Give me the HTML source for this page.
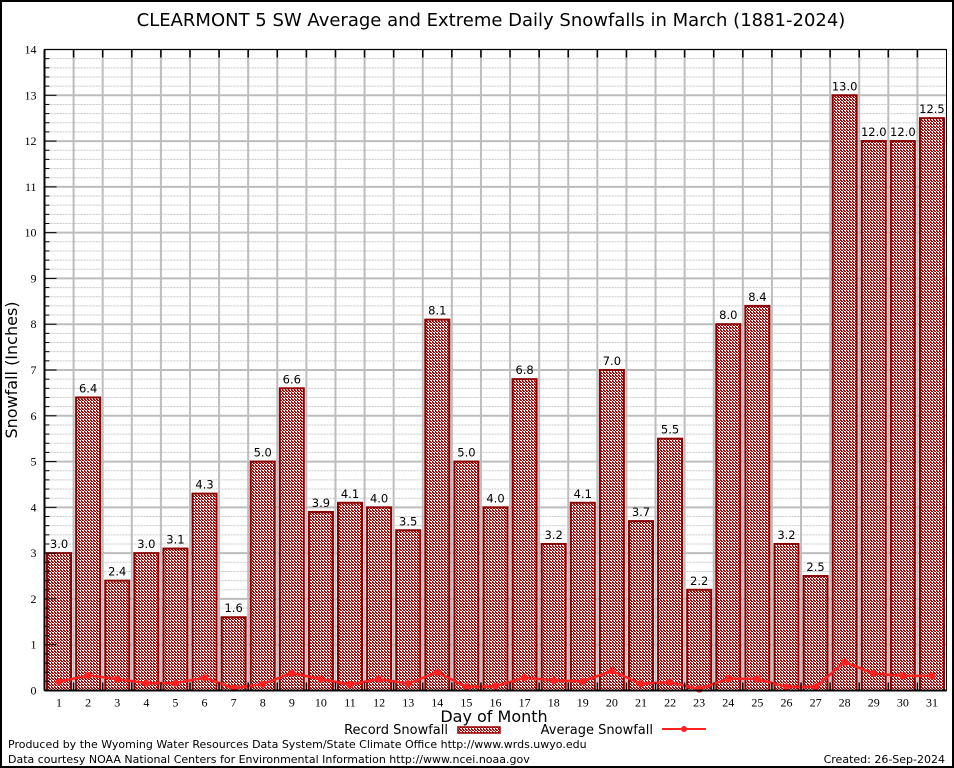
<!DOCTYPE html>
<html><head><meta charset="utf-8"><style>
html,body{margin:0;padding:0;background:#fff;}
svg{display:block;font-family:"DejaVu Sans","Liberation Sans",sans-serif;}
</style></head><body>
<svg id="chart" width="954" height="768" viewBox="0 0 954 768">
<defs>
<pattern id="chk" width="3" height="3" patternUnits="userSpaceOnUse">
<rect width="3" height="3" fill="#fff"/><rect x="0" y="0" width="2" height="1" fill="#b00000"/><rect x="1" y="1" width="2" height="1" fill="#b00000"/><rect x="0" y="2" width="1" height="1" fill="#b00000"/>
</pattern>
</defs>
<rect x="1" y="1" width="952" height="766" fill="#fff" stroke="#000" stroke-width="2"/>
<text x="491" y="26" text-anchor="middle" font-size="18">CLEARMONT 5 SW Average and Extreme Daily Snowfalls in March (1881-2024)</text>
<g id="grid"></g>
<g id="bars"></g>
<g id="avg"></g>
<g id="axes"></g>
<text transform="translate(17,370) rotate(-90)" text-anchor="middle" font-size="16">Snowfall (Inches)</text>
<text x="494" y="722" text-anchor="middle" font-size="16">Day of Month</text>
<g>
<text x="448" y="734" text-anchor="end" font-size="13">Record Snowfall</text>
<rect x="458" y="727" width="42" height="6" fill="url(#chk)" stroke="#990000" stroke-width="1.5"/>
<text x="653" y="734" text-anchor="end" font-size="13">Average Snowfall</text>
<line x1="662" y1="729" x2="706" y2="729" stroke="#ff2020" stroke-width="2"/>
<circle cx="684" cy="729" r="3" fill="#ff2020"/>
</g>
<text x="8" y="748" font-size="11">Produced by the Wyoming Water Resources Data System/State Climate Office http://www.wrds.uwyo.edu</text>
<text x="8" y="763" font-size="11">Data courtesy NOAA National Centers for Environmental Information http://www.ncei.noaa.gov</text>
<text x="945" y="763" text-anchor="end" font-size="11">Created: 26-Sep-2024</text>
</svg>
<script>
const days = [1,2,3,4,5,6,7,8,9,10,11,12,13,14,15,16,17,18,19,20,21,22,23,24,25,26,27,28,29,30,31];
const recordSnow = [3.0,6.4,2.4,3.0,3.1,4.3,1.6,5.0,6.6,3.9,4.1,4.0,3.5,8.1,5.0,4.0,6.8,3.2,4.1,7.0,3.7,5.5,2.2,8.0,8.4,3.2,2.5,13.0,12.0,12.0,12.5];
const avgSnow = [0.19,0.33,0.25,0.16,0.16,0.28,0.05,0.14,0.38,0.25,0.13,0.25,0.15,0.40,0.08,0.09,0.28,0.22,0.20,0.43,0.15,0.18,0.03,0.26,0.25,0.08,0.08,0.62,0.37,0.32,0.32];
const yTicks = [0,1,2,3,4,5,6,7,8,9,10,11,12,13,14];
const NS="http://www.w3.org/2000/svg";
const L=44.5,R=946.5,T=49.5,B=690.5,YMAX=14;
const bw=(R-L)/days.length;
const x=d=>L+(d-0.5)*bw;
const y=v=>B-(v/YMAX)*(B-T);
function mk(tag,attrs,parent,txt){const e=document.createElementNS(NS,tag);for(const k in attrs)e.setAttribute(k,attrs[k]);if(txt!==undefined)e.textContent=txt;parent.appendChild(e);return e;}
const grid=document.getElementById('grid'),bars=document.getElementById('bars'),avg=document.getElementById('avg'),axes=document.getElementById('axes');
mk('rect',{x:L,y:T,width:R-L,height:B-T,fill:'#fff'},grid);
for(let v=0;v<YMAX;v+=0.2){const r=Math.round(v*10)/10;if(Math.abs(r-Math.round(r))<1e-6)continue;
mk('line',{x1:L,x2:R,y1:y(r),y2:y(r),stroke:'#c8c8c8','stroke-width':1,'stroke-dasharray':'2,1'},grid);}
yTicks.forEach(v=>{const l=mk('line',{x1:L,x2:R,y1:y(v),y2:y(v),stroke:'#bdbdbd','stroke-width':2},grid);

});
for(let i=1;i<days.length;i++){const l=mk('line',{x1:L+i*bw,x2:L+i*bw,y1:T,y2:B,stroke:'#bdbdbd','stroke-width':2},grid);

}
days.forEach((d,i)=>{const v=recordSnow[i];
const r=mk('rect',{x:x(d)-12,y:y(v),width:24,height:B-y(v),fill:'url(#chk)',stroke:'#8b0000','stroke-width':2},bars);


const t=mk('text',{x:x(d),y:y(v)-5,'text-anchor':'middle','font-size':11.5},bars,v.toFixed(1));

});
const pts=days.map((d,i)=>x(d)+','+y(avgSnow[i])).join(' ');
const pl=mk('polyline',{points:pts,fill:'none',stroke:'#ff2020','stroke-width':2.5},avg);


days.forEach((d,i)=>{const c=mk('circle',{cx:x(d),cy:y(avgSnow[i]),r:3.5,fill:'#ff2020'},avg);

});
mk('rect',{x:L,y:T,width:R-L,height:B-T,fill:'none',stroke:'#000','stroke-width':1},axes);
mk('line',{x1:L,x2:L,y1:T,y2:B,stroke:'#000','stroke-width':2},axes);
mk('line',{x1:L,x2:R,y1:B,y2:B,stroke:'#000','stroke-width':2},axes);
for(let v=0;v<=YMAX+1e-6;v+=0.2){const r=Math.round(v*10)/10;const maj=Math.abs(r-Math.round(r))<1e-6;
mk('line',{x1:L,x2:L+(maj?12:5),y1:y(r),y2:y(r),stroke:'#000','stroke-width':1},axes);}
yTicks.forEach(v=>{const t=mk('text',{x:L-8,y:y(v)+4,'text-anchor':'end','font-size':12,'font-family':'Liberation Serif, serif'},axes,String(v));

});
for(let i=1;i<days.length;i++){mk('line',{x1:L+i*bw,x2:L+i*bw,y1:T,y2:T+8,stroke:'#000','stroke-width':1.5},axes);
mk('line',{x1:L+i*bw,x2:L+i*bw,y1:B,y2:B-8,stroke:'#000','stroke-width':1.5},axes);}
days.forEach(d=>{const t=mk('text',{x:x(d),y:B+16,'text-anchor':'middle','font-size':12,'font-family':'Liberation Serif, serif'},axes,String(d));

});
</script>
</body></html>
